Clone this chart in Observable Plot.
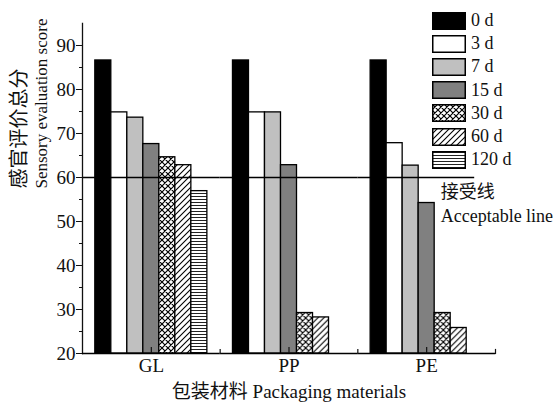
<!DOCTYPE html>
<html>
<head>
<meta charset="utf-8">
<script src="https://cdn.jsdelivr.net/npm/d3@7"></script>
<script src="https://cdn.jsdelivr.net/npm/@observablehq/plot@0.6"></script>
<style>
  html, body { margin: 0; padding: 0; background: #fff; }
  #chart { position: relative; width: 556px; height: 407px; }
  #legend { position: absolute; left: 432px; top: 9px; font-family: "Liberation Serif", "Noto Sans CJK SC", serif; font-size: 18px; color: #111; }
  #legend .row { display: flex; align-items: center; height: 23.2px; }
  #legend svg { display: block; margin-right: 5px; }
</style>
</head>
<body>
<!-- shared fill patterns for bars and legend swatches -->
<svg width="0" height="0" style="position:absolute">
  <defs>
    <pattern id="p-cross" patternUnits="userSpaceOnUse" width="6" height="6">
      <rect width="6" height="6" fill="#fff"/>
      <path d="M0,0L6,6M6,0L0,6M-1,1L1,-1M5,7L7,5M-1,5L1,7M5,-1L7,1" stroke="#000" stroke-width="1.2"/>
    </pattern>
    <pattern id="p-diag" patternUnits="userSpaceOnUse" width="6" height="6">
      <rect width="6" height="6" fill="#fff"/>
      <path d="M0,6L6,0M-1,1L1,-1M5,7L7,5" stroke="#000" stroke-width="1.1"/>
    </pattern>
    <pattern id="p-horiz" patternUnits="userSpaceOnUse" width="6" height="3">
      <rect width="6" height="3" fill="#fff"/>
      <path d="M0,1.5L6,1.5" stroke="#222" stroke-width="1"/>
    </pattern>
  </defs>
</svg>
<div id="chart"><div id="legend"></div></div>
<script>
// Packaging materials and storage times
const materials = ["GL", "PP", "PE"];
const days = ["0 d", "3 d", "7 d", "15 d", "30 d", "60 d", "120 d"];

// Sensory evaluation scores per storage time (null = not evaluated)
const scoresGL = [86.6, 74.8, 73.6, 67.6, 64.6, 62.8, 56.9];
const scoresPP = [86.6, 74.8, 74.8, 62.8, 29.2, 28.2, null];
const scoresPE = [86.6, 67.8, 62.7, 54.2, 29.2, 25.8, null];

// Acceptable score threshold
const acceptable = 60;

// Axis settings
const yDomain = [20, 95];
const yTicks = [20, 30, 40, 50, 60, 70, 80, 90];
const yMinorTicks = [25, 35, 45, 55, 65, 75, 85];

// Bar fills per storage time
const fills = ["#000", "#fff", "#c0c0c0", "#808080", "url(#p-cross)", "url(#p-diag)", "url(#p-horiz)"];

const serif = "'Liberation Serif', 'Noto Sans CJK SC', serif";

const seriesByMaterial = {GL: scoresGL, PP: scoresPP, PE: scoresPE};
const rows = materials.flatMap(m =>
  days.map((d, i) => ({material: m, day: d, score: seriesByMaterial[m][i]}))
).filter(r => r.score != null);

const chart = Plot.plot({
  width: 556,
  height: 407,
  marginLeft: 82,
  marginRight: 61,
  marginTop: 23,
  marginBottom: 54,
  style: {fontFamily: serif, color: "#111", background: "#fff"},
  fx: {domain: materials, padding: 0, round: false, axis: null},
  x: {domain: days, paddingInner: 0, paddingOuter: 0.8, round: false, axis: null},
  y: {domain: yDomain, axis: null},
  color: {domain: days, range: fills},
  marks: [
    // bars
    Plot.barY(rows, {
      fx: "material", x: "day", y1: yDomain[0], y2: "score",
      fill: "day", stroke: "#000", strokeWidth: 1.3
    }),
    // acceptable line: runs through GL and PP, ends mid-slot in PE
    Plot.ruleY(["GL", "PP"], {fx: d => d, y: () => acceptable, stroke: "#000", strokeWidth: 1.4}),
    Plot.ruleY(["PE"], {fx: d => d, y: () => acceptable, x1: null, x2: () => "120 d", insetRight: 8, stroke: "#000", strokeWidth: 1.4}),
    Plot.text(["PE"], {
      fx: d => d, x: () => "30 d", y: () => acceptable,
      text: () => "接受线\nAcceptable line",
      textAnchor: "start", lineAnchor: "top", dx: -2, dy: 3, lineHeight: 1.35,
      fontSize: 18, fill: "#111"
    }),
    // y axis
    Plot.axisY({ticks: yTicks, tickSize: 6, tickPadding: 1, fontSize: 19, tickFormat: d => d, label: null}),
    Plot.axisY({ticks: yMinorTicks, tickSize: 3, text: null, label: null}),
    Plot.frame({anchor: "left", facetAnchor: "left", strokeWidth: 1.3}),
    // x axis: baseline, group boundary ticks, group centre ticks, labels
    Plot.ruleY(materials, {fx: d => d, y: () => yDomain[0], stroke: "#000", strokeWidth: 1.3}),
    Plot.frame({anchor: "right", insetTop: 326, strokeWidth: 1.2}),
    Plot.ruleX(materials, {fx: d => d, x: null, insetTop: 324, strokeWidth: 1.2}),
    Plot.axisFx({anchor: "bottom", tickSize: 0, tickPadding: 5, fontSize: 19, label: null}),
    // axis titles
    Plot.text(["GL"], {
      fx: d => d, frameAnchor: "left", rotate: -90, text: () => "感官评价总分",
      dx: -63, fontSize: 20, fill: "#111"
    }),
    Plot.text(["GL"], {
      fx: d => d, frameAnchor: "left", rotate: -90, text: () => "Sensory evaluation score",
      dx: -41, fontSize: 17, fill: "#111"
    }),
    Plot.text(["PP"], {
      fx: d => d, frameAnchor: "bottom", text: () => "包装材料 Packaging materials",
      dy: 44, fontSize: 19, fill: "#111"
    })
  ]
});

const container = document.getElementById("chart");
container.insertBefore(chart, container.firstChild);

// legend with patterned swatches
const legend = d3.select("#legend");
days.forEach((d, i) => {
  const row = legend.append("div").attr("class", "row");
  const sw = row.append("svg").attr("width", 34).attr("height", 18);
  sw.append("rect").attr("x", 0.75).attr("y", 0.75).attr("width", 32.5).attr("height", 16.5)
    .attr("fill", fills[i]).attr("stroke", "#000").attr("stroke-width", 1.5);
  row.append("span").text(d);
});
</script>
</body>
</html>
